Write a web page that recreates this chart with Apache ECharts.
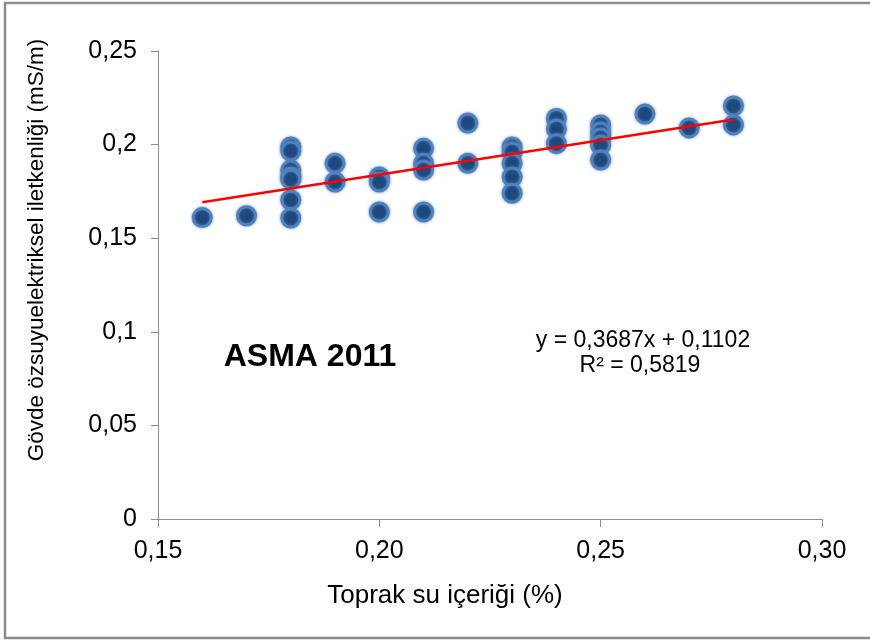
<!DOCTYPE html>
<html>
<head>
<meta charset="utf-8">
<script src="https://cdn.jsdelivr.net/npm/echarts@6/dist/echarts.min.js"></script>
<style>html,body{margin:0;padding:0;background:#fff}#c{width:870px;height:644px}</style>
</head>
<body>
<div id="c"></div>
<script>
// Data
const waterContent = [
  0.16, 0.17,
  0.18, 0.18, 0.18, 0.18, 0.18, 0.18, 0.18,
  0.19, 0.19,
  0.20, 0.20, 0.20,
  0.21, 0.21, 0.21, 0.21,
  0.22, 0.22,
  0.23, 0.23, 0.23, 0.23, 0.23,
  0.24, 0.24, 0.24,
  0.25, 0.25, 0.25, 0.25, 0.25,
  0.26, 0.27,
  0.28, 0.28
];
const conductivity = [
  0.161, 0.162,
  0.1987, 0.1966, 0.1864, 0.1827, 0.1815, 0.1704, 0.1608,
  0.190, 0.180,
  0.1827, 0.180, 0.164,
  0.198, 0.190, 0.1864, 0.164,
  0.2115, 0.190,
  0.1987, 0.196, 0.190, 0.1827, 0.174,
  0.2140, 0.2083, 0.2005,
  0.2105, 0.2067, 0.2035, 0.1998, 0.1918,
  0.2163, 0.2089,
  0.2206, 0.2105
];
const trendSlope = 0.3687;
const trendIntercept = 0.1102;
const trendRange = [0.16, 0.28];
const xTicks = ['0,15', '0,20', '0,25', '0,30'];
const equationText = 'y = 0,3687x + 0,1102';
const r2Text = 'R² = 0,5819';
const chartLabel = 'ASMA 2011';
const xTitle = 'Toprak su içeriği (%)';
const yTitle = 'Gövde özsuyuelektriksel iletkenliği (mS/m)';

const points = waterContent.map((x, i) => [x, conductivity[i]]);
const trend = trendRange.map(x => [x, trendSlope * x + trendIntercept]);

const chart = echarts.init(document.getElementById('c'));
const font = '"Liberation Sans", Arial, sans-serif';
chart.setOption({
  animation: false,
  backgroundColor: '#fff',
  grid: { left: 158, right: 48, top: 51, bottom: 125, containLabel: false },
  xAxis: {
    type: 'value', min: 0.15, max: 0.30, interval: 0.05,
    splitLine: { show: false },
    axisLine: { show: true, onZero: false, lineStyle: { color: '#8c8c8c', width: 1 } },
    axisTick: { show: true, inside: false, length: 8, lineStyle: { color: '#8c8c8c' } },
    axisLabel: {
      margin: 20, color: '#000', fontFamily: font, fontSize: 25,
      formatter: v => { const i = Math.round((v - 0.15) / 0.05); return xTicks[i] || ''; }
    }
  },
  yAxis: {
    type: 'value', min: 0, max: 0.25, interval: 0.05,
    splitLine: { show: false },
    axisLine: { show: true, lineStyle: { color: '#8c8c8c', width: 1 } },
    axisTick: { show: true, inside: false, length: 7, lineStyle: { color: '#8c8c8c' } },
    axisLabel: {
      margin: 21, color: '#000', fontFamily: font, fontSize: 25,
      formatter: v => String(Math.round(v * 100) / 100).replace('.', ',')
    }
  },
  series: [
    {
      type: 'line', data: trend, symbol: 'none', z: 3,
      lineStyle: { color: '#ff0000', width: 2.5 }
    },
    {
      type: 'scatter', data: points, symbol: 'circle', symbolSize: 18, z: 2,
      itemStyle: {
        color: '#1F497D', borderColor: '#4F81BD', borderWidth: 3,
        shadowBlur: 3, shadowColor: 'rgba(79,129,189,0.8)', opacity: 1
      }
    }
  ],
  graphic: [
    { type: 'rect', shape: { x: 5, y: 3, width: 880, height: 635 },
      style: { fill: null, stroke: '#8c8c8c', lineWidth: 2.5 }, silent: true },
    { type: 'text', x: 37, y: 250, rotation: Math.PI / 2,
      style: { text: yTitle, font: '22.5px ' + font, fill: '#000', textAlign: 'center', textVerticalAlign: 'middle' } },
    { type: 'text', x: 445, y: 596,
      style: { text: xTitle, font: '26px ' + font, fill: '#000', textAlign: 'center', textVerticalAlign: 'middle' } },
    { type: 'text', x: 310, y: 357,
      style: { text: chartLabel, font: 'bold 32px ' + font, fill: '#000', textAlign: 'center', textVerticalAlign: 'middle' } },
    { type: 'text', x: 643, y: 341,
      style: { text: equationText, font: '23px ' + font, fill: '#000', textAlign: 'center', textVerticalAlign: 'middle' } },
    { type: 'text', x: 640, y: 366,
      style: { text: r2Text, font: '23px ' + font, fill: '#000', textAlign: 'center', textVerticalAlign: 'middle' } }
  ]
});
</script>
</body>
</html>
